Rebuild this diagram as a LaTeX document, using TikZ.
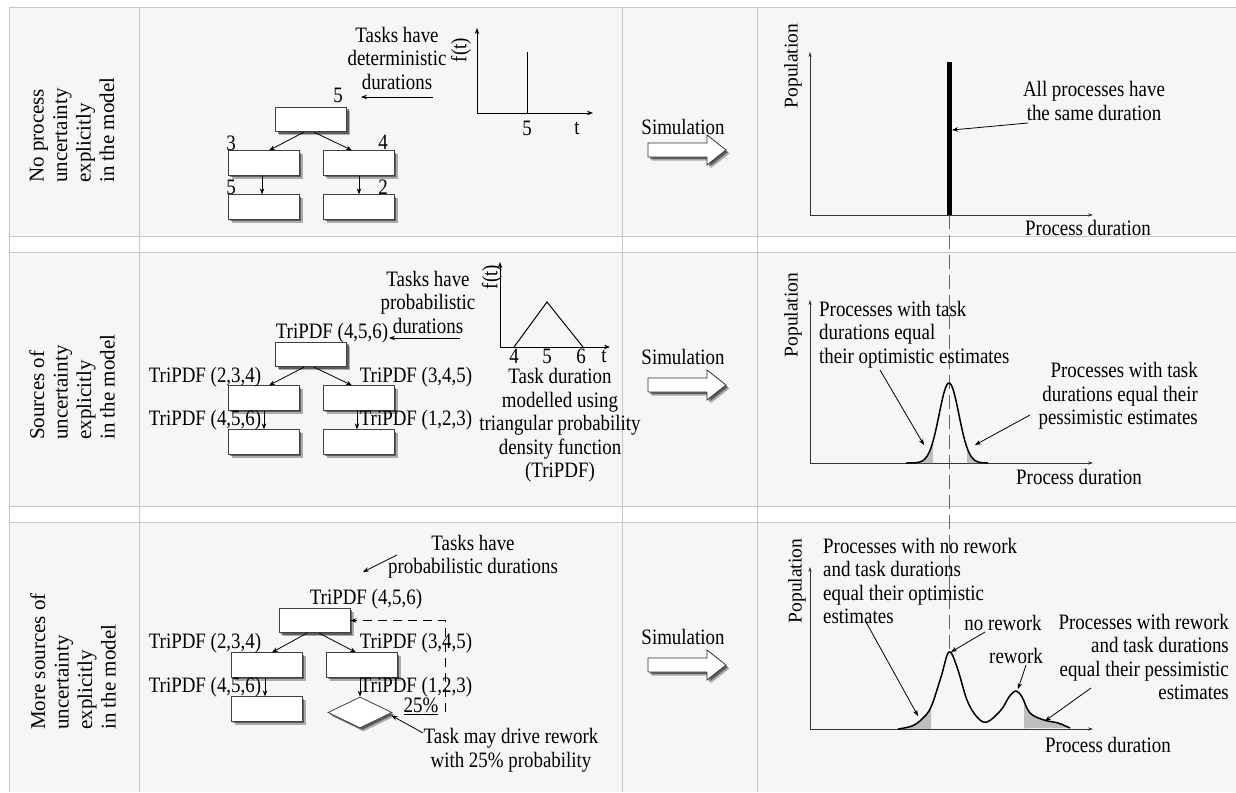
\documentclass[tikz,border=0pt]{standalone}
\usepackage{fontspec}
\setmainfont{Liberation Serif}[FakeStretch=0.86]
\newfontfamily\rotfont{Liberation Serif}
\usetikzlibrary{arrows.meta,shadows,shapes.geometric}
\newcommand\txtfont{\fontsize{22}{23.5}\selectfont}
\newcommand\labfont{\rotfont\fontsize{21}{23.5}\selectfont}
\newcommand\popfont{\rotfont\fontsize{19.5}{22}\selectfont}
\definecolor{rowbg}{HTML}{F6F6F6}
\definecolor{gridc}{HTML}{C8C8C8}
\definecolor{tailc}{HTML}{BEBEBE}
\begin{document}
\begin{tikzpicture}[x=1pt,y=-1pt,
  every node/.style={inner sep=0pt, font=\txtfont},
  gridline/.style={draw=gridc, line width=0.8pt},
  shadowed/.style={drop shadow={shadow xshift=3.5pt, shadow yshift=-3.5pt, opacity=0.3, fill=black},
                   drop shadow={shadow xshift=2pt, shadow yshift=-2pt, opacity=0.45, fill=black}},
  task/.style={draw=black!75, fill=white, line width=0.8pt, minimum width=71pt, minimum height=24.5pt, shadowed},
  dec/.style={diamond, draw=black!75, fill=white, line width=0.8pt, minimum width=64pt, minimum height=31pt, shadowed},
  conn/.style={draw=black, line width=0.8pt, -{Stealth[length=6pt,width=4.5pt]}},
  axis1/.style={draw=black, line width=0.9pt, {Stealth[length=6pt,width=4.5pt]}-{Stealth[length=6pt,width=4.5pt]}},
  axis2/.style={draw=black!80, line width=0.6pt, {Stealth[length=5pt,width=3.2pt]}-{Stealth[length=5pt,width=3.2pt]}},
  blockarr/.style={draw=black!80, fill=white, line width=0.8pt, shadowed},
  rowlabel/.style={rotate=90, align=left, anchor=west, font=\labfont},
  poplabel/.style={rotate=90, font=\popfont},
  curve/.style={draw=black, line width=1.5pt},
  fbdash/.style={dash pattern=on 9pt off 6pt},
  middash/.style={draw=black!60, line width=0.8pt, dash pattern=on 14pt off 6pt}
]
\useasboundingbox (0,0) rectangle (1236,792);
\fill[white] (0,0) rectangle (1236,792);
% rows
\fill[rowbg] (9,7) rectangle (1236,236);
\fill[rowbg] (9,252) rectangle (1236,506);
\fill[rowbg] (9,522) rectangle (1236,792);
\foreach \yy in {7,236,252,506,522} \draw[gridline] (9,\yy) -- (1236,\yy);
\foreach \xx in {9,139,622,757} \draw[gridline] (\xx,7) -- (\xx,792);

% row labels
\node[rowlabel] (lab1) at (72,183) {No process\\uncertainty\\explicitly\\in the model};
\node[rowlabel] (lab2) at (72,440) {Sources of\\uncertainty\\explicitly\\in the model};
\node[rowlabel] (lab3) at (73,730) {More sources of\\uncertainty\\explicitly\\in the model};

% ================= ROW 1 =================
\node[task] (a1) at (311,119.5) {};
\node[task] (b1) at (263.5,163) {};
\node[task] (c1) at (358.5,163) {};
\node[task] (d1) at (263.5,207) {};
\node[task] (e1) at (358.5,207) {};
\draw[conn] ([xshift=-7pt]a1.south) -- ([xshift=5.5pt]b1.north);
\draw[conn] ([xshift=3pt]a1.south) -- ([xshift=-6.5pt]c1.north);
\draw[conn] ([xshift=-1.5pt]b1.south) -- ([xshift=-1.5pt]d1.north);
\draw[conn] ([xshift=0.5pt]c1.south) -- ([xshift=0.5pt]e1.north);
\node (n5a) at (338,95) {5};
\node (n3) at (231,143) {3};
\node (n4) at (383,142) {4};
\node (n5b) at (231,187) {5};
\node (n2) at (383,187) {2};
\node[align=center] (tk1) at (397,58) {Tasks have\\deterministic\\durations};
\coordinate (tk1s) at (433,97);
\coordinate (tk1e) at (361,97);
\draw[conn] (tk1s) -- (tk1e);
\coordinate (o1) at (477,113);
\coordinate (o1y) at (477,28);
\coordinate (o1x) at (593,113);
\draw[axis1] (o1y) -- (o1) -- (o1x);
\node[rotate=90] (ft1) at (461,50) {f(t)};
\draw[line width=1pt] (527,113) -- (527,52);
\node (t5a) at (527,128) {5};
\node (tt1) at (577,128) {t};

% ================= ROW 2 =================
\node[task] (a2) at (311,354.5) {};
\node[task] (b2) at (263.5,398) {};
\node[task] (c2) at (358.5,398) {};
\node[task] (d2) at (263.5,442) {};
\node[task] (e2) at (358.5,442) {};
\draw[conn] ([xshift=-7pt]a2.south) -- ([xshift=5.5pt]b2.north);
\draw[conn] ([xshift=3pt]a2.south) -- ([xshift=-6.5pt]c2.north);
\draw[conn] ([xshift=0.5pt]b2.south) -- ([xshift=0.5pt]d2.north);
\draw[conn] ([xshift=-1.5pt]c2.south) -- ([xshift=-1.5pt]e2.north);
\node (p2a) at (332,333) {TriPDF (4,5,6)};
\node (p2b) at (205,377) {TriPDF (2,3,4)};
\node (p2c) at (416,377) {TriPDF (3,4,5)};
\node (p2d) at (205,420) {TriPDF (4,5,6)};
\node (p2e) at (416,420) {TriPDF (1,2,3)};
\node[align=center] (tk2) at (428,302) {Tasks have\\probabilistic\\durations};
\coordinate (tk2s) at (460,338);
\coordinate (tk2e) at (389,338);
\draw[conn] (tk2s) -- (tk2e);
\coordinate (o2) at (500,347);
\coordinate (o2y) at (500,262);
\coordinate (o2x) at (610,347);
\draw[axis1] (o2y) -- (o2) -- (o2x);
\node[rotate=90] (ft2) at (492,277) {f(t)};
\draw[line width=1pt] (514,347) -- (547,302) -- (583,347);
\node (t4) at (514,356.5) {4};
\node (t5) at (547,356.5) {5};
\node (t6) at (581,356.5) {6};
\node (tt2) at (604,356.5) {t};
\node[align=center] (td) at (560,425.5) {Task duration\\modelled using\\triangular probability\\density function\\(TriPDF)};

% ================= ROW 3 =================
\node[task] (a3) at (314.5,620.5) {};
\node[task] (b3) at (266.5,665) {};
\node[task] (c3) at (361.5,665) {};
\node[task] (d3) at (266.5,709) {};
\node[dec] (g3) at (360,712.5) {};
\draw[conn] ([xshift=-7.5pt]a3.south) -- ([xshift=5.5pt]b3.north);
\draw[conn] ([xshift=4.5pt]a3.south) -- ([xshift=-5.5pt]c3.north);
\draw[conn] ([xshift=-1.5pt]b3.south) -- ([xshift=-1.5pt]d3.north);
\draw[conn] ([xshift=-1.5pt]c3.south) -- (g3.north);
\node (p3a) at (366,599) {TriPDF (4,5,6)};
\node (p3b) at (205,643) {TriPDF (2,3,4)};
\node (p3c) at (416,643) {TriPDF (3,4,5)};
\node (p3d) at (205,687) {TriPDF (4,5,6)};
\node (p3e) at (416,687) {TriPDF (1,2,3)};
\node[align=center] (tk3) at (473,556.5) {Tasks have\\probabilistic durations};
\coordinate (tk3s) at (397,555);
\coordinate (tk3e) at (363,572);
\draw[conn] (tk3s) -- (tk3e);
\node (pct) at (421,706) {\underline{25\%}};
\coordinate (fb) at (445,712);
\draw[conn, fbdash] (fb) |- (a3.east);
\node[align=center] (tm) at (511,750) {Task may drive rework\\with 25\% probability};
\coordinate (tms) at (423,733);
\draw[conn] (tms) -- ([xshift=-1pt,yshift=-3pt]g3.east);

% ================= SIMULATION =================
\node (sim1) at (683,127) {Simulation};
\node (sim2) at (683,357) {Simulation};
\node (sim3) at (683,637) {Simulation};
\foreach \yy in {150,385,665}{
  \filldraw[blockarr] (648,{\yy-7}) -- (707,{\yy-7}) -- (707,{\yy-15}) -- (726,\yy) -- (707,{\yy+15}) -- (707,{\yy+7}) -- (648,{\yy+7}) -- cycle;
}

% ================= CHARTS =================
\draw[middash] (949,215) -- (949,652);

% chart 1
\node[poplabel] (pop1) at (793,66) {Population};
\coordinate (c1o) at (810,215);
\coordinate (c1y) at (810,52);
\coordinate (c1x) at (1093,215);
\draw[axis2] (c1y) -- (c1o) -- (c1x);
\draw[line width=5pt] (949,62) -- (949,215);
\node[align=center] (allp) at (1094,101) {All processes have\\the same duration};
\coordinate (allps) at (1028,123);
\coordinate (allpe) at (952,130);
\draw[conn] (allps) -- (allpe);
\node (pd1) at (1088,228) {Process duration};

% chart 2
\node[poplabel] (pop2) at (793,315) {Population};
\coordinate (c2o) at (810,463);
\coordinate (c2y) at (810,300);
\coordinate (c2x) at (1093,463);
\draw[axis2] (c2y) -- (c2o) -- (c2x);
\fill[tailc] (906,463) -- plot[domain=906:933,samples=30] (\x,{463-80*exp(-((\x-949)/14)^2)}) -- (933,463) -- cycle;
\fill[tailc] (967,463) -- plot[domain=967:988,samples=30] (\x,{463-80*exp(-((\x-949)/14)^2)}) -- (988,463) -- cycle;
\draw[curve] plot[domain=906:988,samples=90,smooth] (\x,{463-80*exp(-((\x-949)/14)^2)});
\node[align=left,anchor=west] (opt2) at (819,334.5) {Processes with task\\durations equal\\their optimistic estimates};
\coordinate (opt2s) at (880,370);
\coordinate (opt2e) at (924,445);
\draw[conn] (opt2s) -- (opt2e);
\node[align=right,anchor=east] (pes2) at (1198,396) {Processes with task\\durations equal their\\pessimistic estimates};
\coordinate (pes2s) at (1030,415);
\coordinate (pes2e) at (975,445);
\draw[conn] (pes2s) -- (pes2e);
\node (pd2) at (1079,477) {Process duration};

% chart 3
\node[poplabel] (pop3) at (797,581) {Population};
\coordinate (c3o) at (810,729);
\coordinate (c3y) at (810,567);
\coordinate (c3x) at (1093,729);
\draw[axis2] (c3y) -- (c3o) -- (c3x);
\begin{scope}
\clip (898,600) rectangle (931,730) (1024,600) rectangle (1071,730);
\fill[tailc] plot[smooth,tension=0.6] coordinates {(898,729) (912,726) (922,719) (931,707) (941,677) (949,652) (957,667) (967,700) (977,717) (987,722) (1001,710) (1009,697) (1016,691) (1022,697) (1030,713) (1044,720) (1058,723) (1070,728)} -- cycle;
\end{scope}
\draw[curve] plot[smooth,tension=0.6] coordinates {(898,729) (912,726) (922,719) (931,707) (941,677) (949,652) (957,667) (967,700) (977,717) (987,722) (1001,710) (1009,697) (1016,691) (1022,697) (1030,713) (1044,720) (1058,723) (1070,728)};
\node[align=left,anchor=west] (opt3) at (823,581) {Processes with no rework\\and task durations\\equal their optimistic\\estimates};
\coordinate (opt3s) at (866,622);
\coordinate (opt3e) at (918,716);
\draw[conn] (opt3s) -- (opt3e);
\node (nrw) at (1003,623) {no rework};
\coordinate (nrws) at (985,632);
\coordinate (nrwe) at (951,652);
\draw[conn] (nrws) -- (nrwe);
\node (rw) at (1016,656) {rework};
\coordinate (rws) at (1026,665);
\coordinate (rwe) at (1018,689);
\draw[conn] (rws) -- (rwe);
\node[align=right,anchor=east] (pes3) at (1229,657) {Processes with rework\\and task durations\\equal their pessimistic\\estimates};
\coordinate (pes3s) at (1091,688);
\coordinate (pes3e) at (1045,721);
\draw[conn] (pes3s) -- (pes3e);
\node (pd3) at (1108,745) {Process duration};
\end{tikzpicture}
\end{document}
